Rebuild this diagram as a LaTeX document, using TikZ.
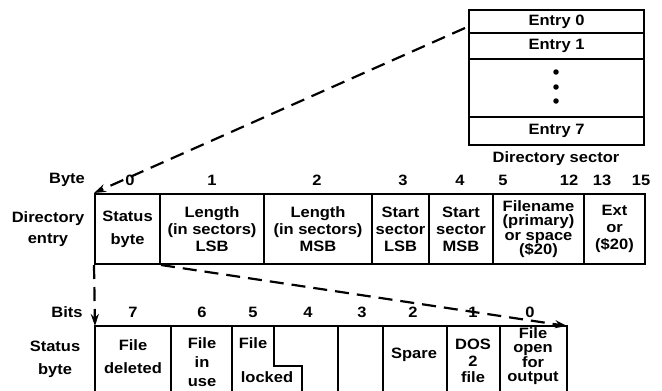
\documentclass[tikz,border=0pt]{standalone}
\usepackage{fontspec}
\setmainfont{Liberation Sans}[FakeStretch=1.1]
\usetikzlibrary{arrows.meta}
\begin{document}
\begin{tikzpicture}[x=1pt,y=-1pt,
  font=\bfseries\fontsize{15}{17}\selectfont,
  cell/.style={draw, line width=2pt, inner sep=0pt, align=center},
  lbl/.style={inner sep=0pt, align=center},
  frame/.style={line width=2pt},
  dashline/.style={line width=2.2pt, dash pattern=on 14pt off 8pt,
    -{Stealth[length=12pt,width=8pt]}},
  dot/.style={circle, fill, inner sep=0pt, minimum size=5.5pt}]
\useasboundingbox (0,0) rectangle (662,391);

% Directory sector
\node[cell, minimum width=175pt, minimum height=23pt] (e0) at (556.5,21.5) {Entry 0};
\node[cell, minimum width=175pt, minimum height=26pt] (e1) at (556.5,46) {Entry 1};
\node[cell, minimum width=175pt, minimum height=58pt] (edots) at (556.5,88) {};
\node[cell, minimum width=175pt, minimum height=28pt] (e7) at (556.5,131) {Entry 7};
\node[dot] (d1) at (556,72) {};
\node[dot] (d2) at (556,87) {};
\node[dot] (d3) at (556,101) {};
\node[lbl] (dslbl) at (556,159) {Directory sector};

% Byte numbers
\node[lbl] (bytelbl) at (67,180) {Byte};
\node[lbl] (n0) at (130,180) {0};
\node[lbl] (n1) at (212,180) {1};
\node[lbl] (n2) at (317,180) {2};
\node[lbl] (n3) at (403,180) {3};
\node[lbl] (n4) at (460,180) {4};
\node[lbl] (n5) at (503,180) {5};
\node[lbl] (n12) at (569,180) {12};
\node[lbl] (n13) at (602,180) {13};
\node[lbl] (n15) at (641,180) {15};

% Directory entry
\node[lbl] (direntry) at (48,229) {Directory\\[4pt]entry};
\node[cell, minimum width=65pt, minimum height=70pt, font=\bfseries\fontsize{15}{23}\selectfont] (st) at (127.5,229) {Status\\byte};
\node[cell, minimum width=104pt, minimum height=70pt] (llsb) at (212,229) {Length\\(in sectors)\\LSB};
\node[cell, minimum width=108pt, minimum height=70pt] (lmsb) at (318,229) {Length\\(in sectors)\\MSB};
\node[cell, minimum width=57pt, minimum height=70pt] (slsb) at (400.5,229) {Start\\sector\\LSB};
\node[cell, minimum width=64pt, minimum height=70pt] (smsb) at (461,229) {Start\\sector\\MSB};
\node[cell, minimum width=91pt, minimum height=70pt, font=\bfseries\fontsize{15}{14.5}\selectfont] (fname) at (538.5,229) {Filename\\(primary)\\or space\\(\$20)};
\node[cell, minimum width=61pt, minimum height=70pt] (ext) at (614.5,229) {Ext\\or\\(\$20)};

% Bits labels
\node[lbl] (bitslbl) at (67,312) {Bits};
\node[lbl] (b7) at (133,312) {7};
\node[lbl] (b6) at (202,312) {6};
\node[lbl] (b5) at (253,312) {5};
\node[lbl] (b4) at (308,312) {4};
\node[lbl] (b3) at (362,312) {3};
\node[lbl] (b2) at (413,312) {2};
\node[lbl] (b1) at (473,312) {1};
\node[lbl] (b0) at (530,312) {0};

% Status byte breakdown
\node[lbl] (stlbl) at (55,359) {Status\\[6pt]byte};
\coordinate (bnw) at (95,326);
\coordinate (bne) at (567,326);
\draw[frame] (95,392) -- (bnw) -- (bne) -- (567,392);
\draw[frame] (171,326) -- (171,392);
\draw[frame] (232,326) -- (232,392);
\draw[frame] (274,326) -- (274,366) -- (302,366) -- (302,392);
\draw[frame] (338,326) -- (338,392);
\draw[frame] (383,326) -- (383,392);
\draw[frame] (447,326) -- (447,392);
\draw[frame] (500,326) -- (500,392);

\node[lbl, font=\bfseries\fontsize{15}{23}\selectfont] (fdel) at (133,357) {File\\deleted};
\node[lbl, font=\bfseries\fontsize{15}{19}\selectfont] (fuse) at (202,362) {File\\in\\use};
\node[lbl] (ffile) at (253,343) {File};
\node[lbl] (flock) at (267,377) {locked};
\node[lbl] (spare) at (414,355) {Spare};
\node[lbl, font=\bfseries\fontsize{15}{16.5}\selectfont] (dos) at (473,361) {DOS\\2\\file};
\node[lbl, font=\bfseries\fontsize{15}{14.3}\selectfont] (fopen) at (533,356) {File\\open\\for\\output};

% Connectors
\coordinate (ds) at (465,28);
\draw[dashline] (ds) -- (st.north west);
\draw[dashline] (st.south west) -- (bnw);
\draw[dashline] (st.south east) -- (bne);
\end{tikzpicture}
\end{document}
